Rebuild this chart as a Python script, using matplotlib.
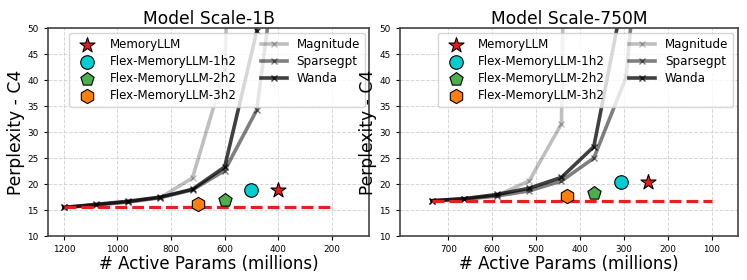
import matplotlib
matplotlib.use("Agg")
import matplotlib.pyplot as plt
import numpy as np

# ------------------------------ data
frac = np.array([1.0, 0.9, 0.8, 0.7, 0.6, 0.5, 0.4, 0.3])

# Model Scale-1B
n_1b = 1200
mag_1b = [15.5, 16.0, 16.5, 17.4, 21.2, 42.0, 210.0]
sgpt_1b = [15.5, 16.0, 16.6, 17.4, 18.9, 22.6, 34.3, 82.0]
wanda_1b = [15.5, 16.1, 16.7, 17.5, 19.0, 23.3, 49.5, 300.0]
mem_1b = ([400, 500, 600, 700], [18.9, 18.9, 17.0, 16.2])
base_1b = ([1200, 200], [15.5, 15.5])

# Model Scale-750M
n_750 = 737
mag_750 = [16.8, 17.2, 17.8, 20.6, 31.6, 500.0]
sgpt_750 = [16.8, 17.1, 17.7, 18.7, 20.6, 25.0, 40.6, 110.0]
wanda_750 = [16.8, 17.2, 18.0, 19.2, 21.3, 27.2, 59.0, 200.0]
mem_750 = ([246, 307, 369, 430], [20.5, 20.4, 18.3, 17.8])
base_750 = ([737, 100], [16.8, 16.8])

mem_labels = ["MemoryLLM", "Flex-MemoryLLM-1h2", "Flex-MemoryLLM-2h2", "Flex-MemoryLLM-3h2"]
mem_markers = ["*", "o", "p", "h"]
mem_colors = ["#e41a1c", "#00ced1", "#4cae4c", "#ff7f0e"]
mem_sizes = [130, 95, 100, 105]

prune_labels = ["Magnitude", "Sparsegpt", "Wanda"]
prune_alpha = [0.25, 0.5, 0.75]

panels = [
    ("Model Scale-1B", n_1b, [mag_1b, sgpt_1b, wanda_1b], mem_1b, base_1b, (1260, 60), [1200, 1000, 800, 600, 400, 200]),
    ("Model Scale-750M", n_750, [mag_750, sgpt_750, wanda_750], mem_750, base_750, (811, 40), [700, 600, 500, 400, 300, 200, 100]),
]

fig = plt.figure(figsize=(7.47, 2.8), dpi=100)
axes = [fig.add_axes([0.064, 0.157, 0.4305, 0.742]),
        fig.add_axes([0.535, 0.157, 0.4529, 0.742])]

for ax, (title, n, prune, mem, base, xlim, xt) in zip(axes, panels):
    handles = []
    for vals, lab, a in zip(prune, prune_labels, prune_alpha):
        xs = n * frac[:len(vals)]
        h, = ax.plot(xs, vals, color="black", alpha=a, lw=2.6, marker="x",
                     ms=4.5, mew=1.0, label=lab, zorder=2)
        handles.append(h)
    ax.plot(base[0], base[1], "--", color="#e8201c", lw=2.3, zorder=3)
    mh = []
    for i in range(4):
        h = ax.scatter(mem[0][i], mem[1][i], marker=mem_markers[i], s=mem_sizes[i],
                       c=mem_colors[i], edgecolors="black", linewidths=0.8,
                       label=mem_labels[i], zorder=4)
        mh.append(h)
    ax.set_xlim(*xlim)
    ax.set_ylim(10, 50)
    ax.set_xticks(xt)
    ax.set_yticks(np.arange(10, 51, 5))
    ax.tick_params(labelsize=6.4, length=3)
    ax.grid(True, ls="--", color="#cccccc", lw=0.7, alpha=0.8)
    ax.set_axisbelow(True)
    for s in ax.spines.values():
        s.set_color("#444444")
        s.set_linewidth(1.2)
    ax.set_title(title, fontsize=12.3, pad=3)
    ax.set_xlabel("# Active Params (millions)", fontsize=12, labelpad=1)
    ax.set_ylabel("Perplexity - C4", fontsize=12.3, labelpad=2)
    ax.legend(mh + handles, mem_labels + prune_labels, loc="upper right", ncol=2,
              fontsize=8.6, handlelength=2.2, columnspacing=2.0,
              labelspacing=0.35, borderaxespad=0.4, framealpha=0.8)

fig.savefig("out.png", dpi=100)
